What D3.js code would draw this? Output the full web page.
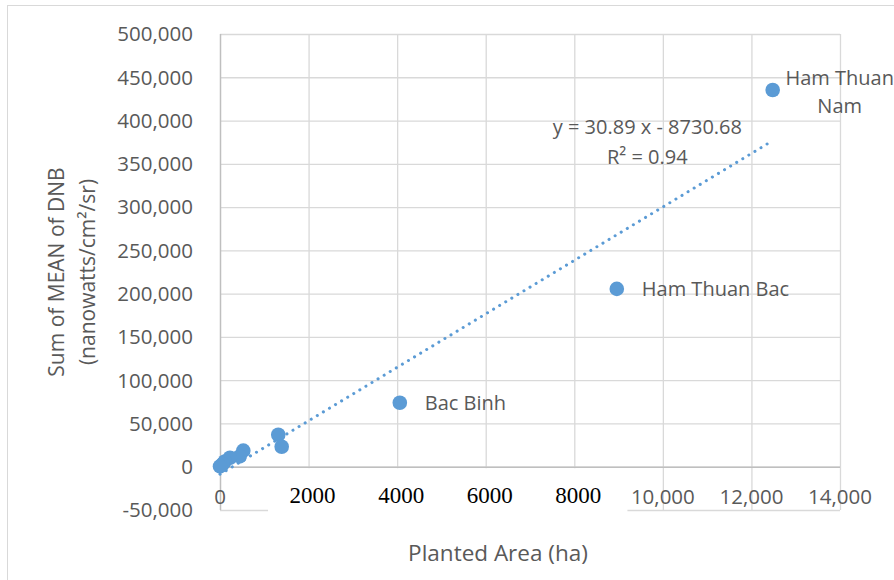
<!DOCTYPE html>
<html>
<head>
<meta charset="utf-8">
<script src="https://cdn.jsdelivr.net/npm/d3@7"></script>
<style>
  body { margin: 0; background: #fff; }
  svg text { fill: #595959; }
  svg text.sans { font-family: "Open Sans", "Noto Sans", sans-serif; }
  svg text.serif { font-family: "Liberation Serif", "DejaVu Serif", "Times New Roman", serif; fill: #000; }
</style>
</head>
<body>
<div id="chart"></div>
<script>
// data
var areaHa   = [12480, 8960, 4060, 1316, 1393, 526, 445, 225, 110, 60, 0];
var dnbSum   = [435300, 205500, 73900, 36950, 23100, 18600, 11900, 10400, 6100, 3000, 350];
var pointLabels = [["Ham Thuan", "Nam"], ["Ham Thuan Bac"], ["Bac Binh"], [], [], [], [], [], [], [], []];

var yTicks = [-50000, 0, 50000, 100000, 150000, 200000, 250000, 300000, 350000, 400000, 450000, 500000];
var xTicks = [0, 2000, 4000, 6000, 8000, 10000, 12000, 14000];
var xTicksOriginal = [0, 10000, 12000, 14000];   // Excel labels still visible
var xTicksPasted = ["2000", "4000", "6000", "8000"]; // pasted over in a serif font

var trendSlope = 30.89, trendIntercept = -8730.68;

var full_width = 894, full_height = 580;
var margin = {top: 34, right: 54, bottom: 70, left: 220};
var width = full_width - margin.left - margin.right;
var height = full_height - margin.top - margin.bottom;

var svg = d3.select("#chart").append("svg")
    .attr("width", full_width)
    .attr("height", full_height);

// outer chart border
svg.append("rect")
    .attr("x", 7.5).attr("y", 5.5)
    .attr("width", full_width + 20).attr("height", full_height + 20)
    .attr("fill", "none").attr("stroke", "#d9d9d9");

var g = svg.append("g")
    .attr("transform", "translate(" + margin.left + "," + margin.top + ")");

var x = d3.scaleLinear().domain([0, 14000]).range([0, width]);
var y = d3.scaleLinear().domain([-50000, 500000]).range([height, 0]);

// gridlines
g.append("g").selectAll("line").data(yTicks).enter().append("line")
    .attr("x1", 0).attr("x2", width)
    .attr("y1", d => y(d) + 0.5).attr("y2", d => y(d) + 0.5)
    .attr("stroke", "#d9d9d9").attr("stroke-width", 1.3);
g.append("g").selectAll("line").data(xTicks.slice(1)).enter().append("line")
    .attr("x1", d => x(d) + 0.5).attr("x2", d => x(d) + 0.5)
    .attr("y1", 0).attr("y2", height)
    .attr("stroke", "#d9d9d9").attr("stroke-width", 1.3);

// axis lines (cross at 0)
g.append("line")
    .attr("x1", 0).attr("x2", width)
    .attr("y1", y(0) + 0.5).attr("y2", y(0) + 0.5)
    .attr("stroke", "#bfbfbf").attr("stroke-width", 1.5);
g.append("line")
    .attr("x1", x(0) + 0.5).attr("x2", x(0) + 0.5)
    .attr("y1", 0).attr("y2", height)
    .attr("stroke", "#bfbfbf").attr("stroke-width", 1.5);

// y tick labels (plain hyphen for the minus, like Excel)
var fmt = d => d3.format(",")(d).replace("\u2212", "-");
g.append("g").selectAll("text").data(yTicks).enter().append("text")
    .attr("class", "sans")
    .attr("x", -27).attr("y", d => y(d))
    .attr("dy", "0.36em")
    .attr("text-anchor", "end")
    .style("font-size", "20.5px")
    .text(d => fmt(d));

// white boxes that were pasted over the original x labels
g.append("rect")
    .attr("x", x(1085)).attr("y", y(0) + 1.5)
    .attr("width", x(9200) - x(1085)).attr("height", 47)
    .attr("fill", "#fff");

g.append("g").selectAll("text").data(xTicksOriginal).enter().append("text")
    .attr("class", "sans")
    .attr("x", d => x(d)).attr("y", y(0) + 30)
    .attr("dy", "0.36em")
    .attr("text-anchor", "middle")
    .style("font-size", "20.5px")
    .text(d => fmt(d));

g.append("g").selectAll("text").data(xTicksPasted).enter().append("text")
    .attr("class", "serif")
    .attr("font-family", "Liberation Serif, DejaVu Serif, serif")
    .attr("x", d => x(+d) + 4).attr("y", y(0) + 28)
    .attr("dy", "0.34em")
    .attr("text-anchor", "middle")
    .style("font-size", "23px")
    .text(d => d);

// trendline
var xMax = d3.max(areaHa);
g.append("line")
    .attr("x1", x(0)).attr("y1", y(trendIntercept))
    .attr("x2", x(xMax)).attr("y2", y(trendSlope * xMax + trendIntercept))
    .attr("stroke", "#5b9bd5").attr("stroke-width", 3)
    .attr("stroke-linecap", "round")
    .attr("stroke-dasharray", "0.1 7");

// points
var pts = areaHa.map((a, i) => ({a: a, v: dnbSum[i], label: pointLabels[i]}));
g.append("g").selectAll("circle").data(pts).enter().append("circle")
    .attr("cx", d => x(d.a)).attr("cy", d => y(d.v))
    .attr("r", 7.3)
    .attr("fill", "#5b9bd5");

// point labels
var labelled = pts.filter(d => d.label.length > 0);
labelled.forEach(function(d){
    var t = g.append("text").attr("class", "sans").style("font-size", "20px");
    if (d.label.length == 2) {
        t.attr("text-anchor", "middle");
        d.label.forEach(function(s, k){
            t.append("tspan")
             .attr("x", x(d.a) + 67).attr("y", y(d.v) - 5 + k * 28)
             .text(s);
        });
    } else {
        t.attr("x", x(d.a) + 25).attr("y", y(d.v))
         .attr("dy", "0.36em")
         .text(d.label[0]);
    }
});

// equation
var eq = g.append("text").attr("class", "sans").attr("text-anchor", "middle").style("font-size", "20px");
eq.append("tspan").attr("x", x(9650)).attr("y", 100)
  .text("y = " + trendSlope + " x - " + Math.abs(trendIntercept));
eq.append("tspan").attr("x", x(9650)).attr("y", 130)
  .text("R\u00B2 = 0.94");

// axis titles
svg.append("text")
    .attr("class", "sans")
    .attr("x", 498).attr("y", 561)
    .attr("text-anchor", "middle")
    .style("font-size", "22.5px")
    .text("Planted Area (ha)");

var yt = svg.append("text")
    .attr("class", "sans")
    .attr("transform", "translate(0,272) rotate(-90)")
    .attr("text-anchor", "middle")
    .style("font-size", "21px");
yt.append("tspan").attr("x", 0).attr("y", 64).text("Sum of MEAN of DNB");
yt.append("tspan").attr("x", 0).attr("y", 95).text("(nanowatts/cm\u00B2/sr)");
</script>
</body>
</html>
